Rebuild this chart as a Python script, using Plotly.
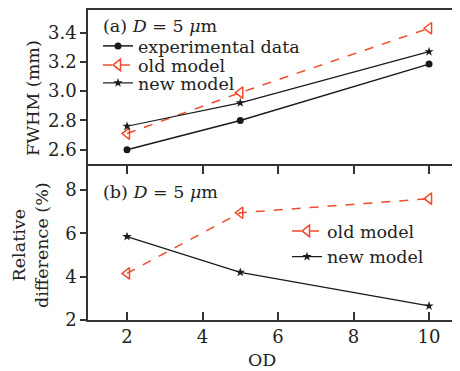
import plotly.graph_objects as go

od = [2, 5, 10]
fwhm_exp = [2.60, 2.80, 3.185]
fwhm_old = [2.71, 2.99, 3.43]
fwhm_new = [2.76, 2.92, 3.27]
rel_old = [4.15, 6.95, 7.6]
rel_new = [5.85, 4.2, 2.65]

x_ticks = [2, 4, 6, 8, 10]
top_y_ticks = [2.6, 2.8, 3.0, 3.2, 3.4]
top_y_labels = ["2.6", "2.8", "3.0", "3.2", "3.4"]
bot_y_ticks = [2, 4, 6, 8]

RED = "#f04a2a"
BLK = "#1a1a1a"
AX = "#333333"
FONT = "DejaVu Serif"
FS = 17.5

fig = go.Figure()
fig.add_trace(go.Scatter(x=od, y=fwhm_exp, mode="lines+markers", name="experimental data",
                         line=dict(color=BLK, width=1.5), marker=dict(symbol="circle", size=7, color=BLK),
                         xaxis="x", yaxis="y", legend="legend"))
fig.add_trace(go.Scatter(x=od, y=fwhm_old, mode="lines+markers", name="old model",
                         line=dict(color=RED, width=1.5, dash="dash"),
                         marker=dict(symbol="triangle-left-open", size=10, color=RED, line=dict(width=1.5)),
                         xaxis="x", yaxis="y", legend="legend2"))
fig.add_trace(go.Scatter(x=od, y=fwhm_new, mode="lines+markers", name="new model",
                         line=dict(color=BLK, width=1.2), marker=dict(symbol="star", size=7, color=BLK),
                         xaxis="x", yaxis="y", legend="legend3"))
fig.add_trace(go.Scatter(x=od, y=rel_old, mode="lines+markers", name="old model",
                         line=dict(color=RED, width=1.5, dash="dash"),
                         marker=dict(symbol="triangle-left-open", size=10, color=RED, line=dict(width=1.5)),
                         xaxis="x2", yaxis="y2", legend="legend4"))
fig.add_trace(go.Scatter(x=od, y=rel_new, mode="lines+markers", name="new model",
                         line=dict(color=BLK, width=1.2), marker=dict(symbol="star", size=7, color=BLK),
                         xaxis="x2", yaxis="y2", legend="legend4"))

# target plot area in screen pixels; page body has an 8px offset
OFF = 8
L, T, Bot, R = 88, 10, 320, 460
H, W = 371, 460
ph = Bot - T
pw = R - L
split = 156 / ph

def ax(**kw):
    d = dict(showline=True, linecolor=AX, linewidth=1.5, showgrid=False, zeroline=False,
             tickcolor=AX, tickwidth=1.5, ticklen=8, automargin=False,
             tickfont=dict(family=FONT, size=18, color="#222"))
    d.update(kw)
    return d

fig.update_layout(
    width=W, height=H,
    margin=dict(l=L - OFF, r=W - (R - OFF), t=T - OFF, b=H - (Bot - OFF), autoexpand=False),
    paper_bgcolor="white", plot_bgcolor="white",
    font=dict(family=FONT, size=FS, color="#222"),
    xaxis=ax(domain=[0, 1], range=[0.967, 10.82], tickvals=x_ticks, showticklabels=False,
             ticks="outside", anchor="y", mirror=True),
    yaxis=ax(domain=[split, 1], range=[2.502, 3.555], tickvals=top_y_ticks, ticktext=top_y_labels,
             ticks="outside", ticklen=6, anchor="x"),
    xaxis2=ax(domain=[0, 1], range=[0.967, 10.82], tickvals=x_ticks, ticks="inside", anchor="y2"),
    yaxis2=ax(domain=[0, split], range=[2, 9.2], tickvals=bot_y_ticks, ticks="outside", ticklen=6,
              anchor="x2"),
    showlegend=True,
)

leg = dict(bgcolor="rgba(0,0,0,0)", borderwidth=0, xanchor="left", yanchor="middle",
           font=dict(family=FONT, size=FS, color="#222"), itemwidth=30, tracegroupgap=0)

def px(p):
    return (p - L) / pw

def py(p):
    return 1 - (p - T) / ph

fig.update_layout(
    legend=dict(x=px(98), y=py(46), **leg),
    legend2=dict(x=px(98), y=py(65), **leg),
    legend3=dict(x=px(98), y=py(83), **leg),
    legend4=dict(x=px(287), y=py(244), **leg),
)

def label(text, x, y, size=FS, angle=0, xanchor="center"):
    fig.add_annotation(text=text, xref="paper", yref="paper", x=px(x), y=py(y),
                       showarrow=False, textangle=angle, xanchor=xanchor, yanchor="middle",
                       font=dict(family=FONT, size=size, color="#222"))

label("(a) <i>D</i> = 5 <i>μ</i>m", 101, 26, xanchor="left")
label("(b) <i>D</i> = 5 <i>μ</i>m", 101, 192, xanchor="left")
label("FWHM (mm)", 33, 98, angle=-90)
label("Relative<br>difference (%)", 30, 245, angle=-90)
label("OD", 262, 360)

fig.write_html("out.html")
